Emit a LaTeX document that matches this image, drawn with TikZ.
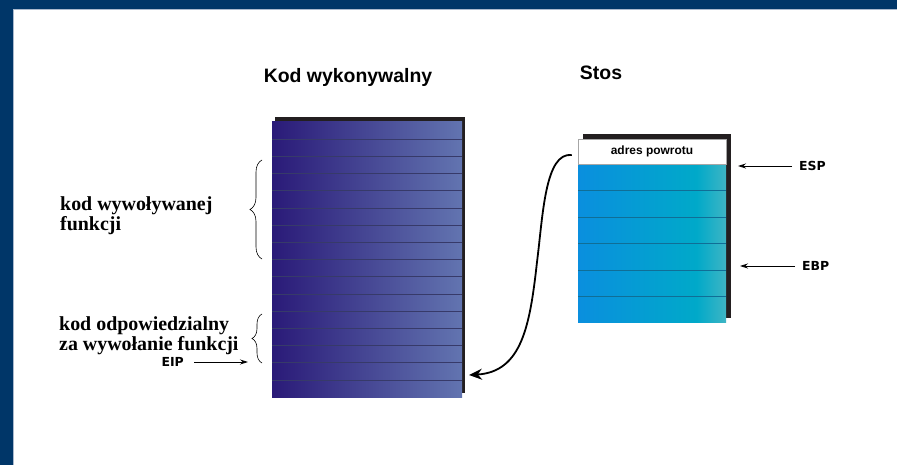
\documentclass[tikz,border=0pt]{standalone}
\usepackage{fontspec}
\setmainfont{Liberation Serif}
\setsansfont{Liberation Sans}
\newfontfamily\regfont{DejaVu Sans}
\usepackage{tikz}
\usetikzlibrary{arrows.meta,calc,positioning,decorations.pathreplacing}

\definecolor{framec}{RGB}{0,54,104}
\definecolor{frameedge}{RGB}{170,185,205}
\definecolor{shadowc}{RGB}{35,31,32}
\definecolor{codeL}{RGB}{42,26,120}
\definecolor{codeR}{RGB}{98,116,176}
\definecolor{codeline}{RGB}{55,58,105}
\definecolor{stackL}{RGB}{10,143,222}
\definecolor{stackM}{RGB}{0,169,201}
\definecolor{stackR}{RGB}{62,181,196}
\definecolor{stackline}{RGB}{16,110,150}
\pgfdeclarehorizontalshading{stackfill}{100bp}{color(0bp)=(stackL); color(25bp)=(stackL); color(65bp)=(stackM); color(75bp)=(stackR); color(100bp)=(stackR)}

\begin{document}
\begin{tikzpicture}[x=1bp, y=-1bp, every node/.style={inner sep=0pt},
  title/.style={font=\sffamily\bfseries\fontsize{19.5}{22}\selectfont, anchor=base},
  note/.style={font=\rmfamily\bfseries\fontsize{20}{21}\selectfont, align=left, anchor=base west},
  reg/.style={font=\regfont\bfseries\fontsize{12.5}{14}\selectfont},
  ptr/.style={-{Stealth[length=8bp,width=5bp]}, line width=0.8bp},
  cbrace/.style={decorate, decoration={brace, amplitude=#1}, line width=0.6bp},
  codeblock/.style={left color=codeL, right color=codeR, minimum width=190bp, minimum height=275bp},
  stackbody/.style={shading=stackfill, minimum width=148bp, minimum height=159bp},
  retcell/.style={fill=white, draw=gray!70, line width=0.5bp, minimum width=148bp, minimum height=25bp,
    font=\sffamily\bfseries\fontsize{12}{14}\selectfont}]
  \useasboundingbox (0,0) rectangle (897,465);

  % slide frame
  \fill[framec] (0,0) rectangle (897,9);
  \fill[framec] (0,0) rectangle (13,465);
  \draw[frameedge, line width=0.7bp] (13.4,465) -- (13.4,9.4) -- (897,9.4);

  % headings
  \node[title] (codetitle) at (348,83) {Kod wykonywalny};
  \node[title] (stacktitle) at (601,80) {Stos};

  % executable code
  \fill[shadowc] (275,117) rectangle (465,393);
  \node[codeblock] (code) at (367,259.5) {};
  \foreach \i in {1,...,15} { \draw[codeline, line width=0.6bp] (272,122+\i*17.1875) -- (462,122+\i*17.1875); }

  % stack
  \fill[shadowc] (583,134) rectangle (731,318);
  \node[stackbody] (stack) at (652,243.5) {};
  \foreach \i in {1,...,5} { \draw[stackline, line width=0.6bp] (578,164+\i*26.5) -- (726,164+\i*26.5); }
  \node[retcell] (ret) at (652,151.5) {adres powrotu};

  % registers
  \node[reg, anchor=west] (esp) at (799,166) {ESP};
  \node[reg, anchor=west] (ebp) at (802,266) {EBP};
  \node[reg, anchor=east] (eip) at (184,362) {EIP};
  \coordinate (esptip) at (738,166);
  \coordinate (ebptip) at (740,266);
  \coordinate (eiptip) at (248,362);
  \draw[ptr] ($(esp.west)+(-7,0)$) -- (esptip);
  \draw[ptr] ($(ebp.west)+(-7,0)$) -- (ebptip);
  \draw[ptr] ($(eip.east)+(10,0)$) -- (eiptip);

  % return jump
  \coordinate (callsite) at (469,375);
  \draw[line width=1.8bp, -{Stealth[length=13bp,width=11bp]}]
    ($(ret.west)+(-6,3.5)$) .. controls (545,152) and (543,215) .. (537,262)
    .. controls (530,325) and (522,372) .. (callsite);

  % descriptions
  \node[note] (callee) at (60,231) {kod wywoływanej\\funkcji};
  \node[note] (caller) at (59,351) {kod odpowiedzialny\\za wywołanie funkcji};
  \draw[cbrace=12bp] (262,259) -- (262,160);
  \draw[cbrace=10bp] (262,363) -- (262,314);
\end{tikzpicture}
\end{document}
